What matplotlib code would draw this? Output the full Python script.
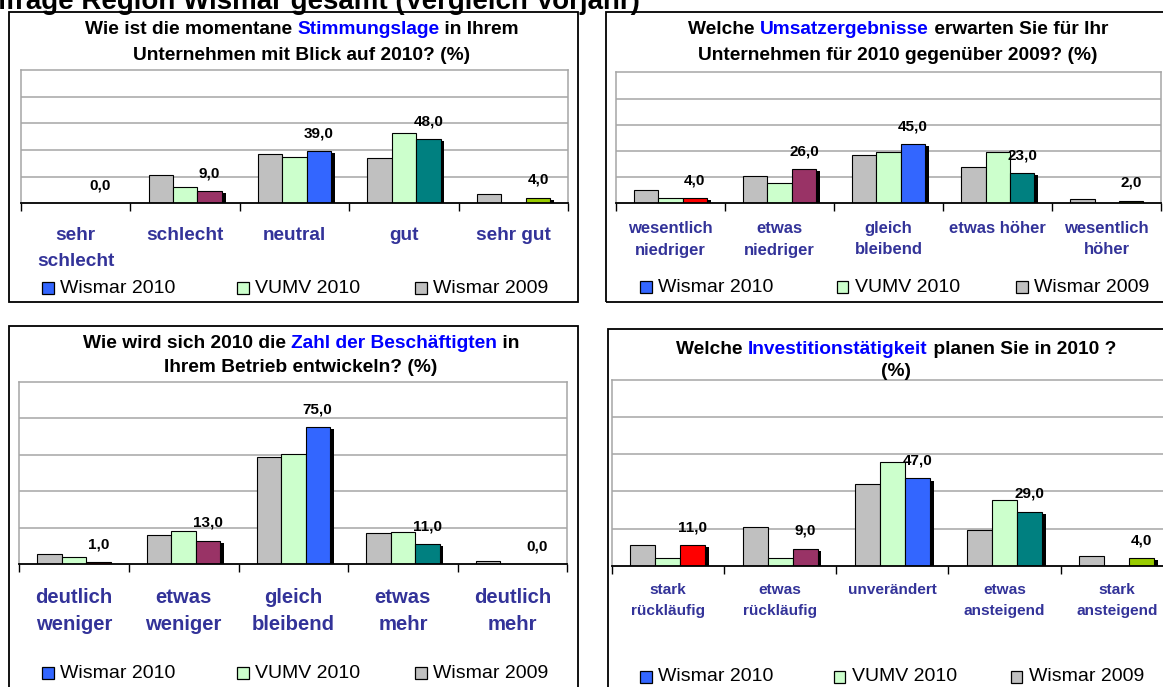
import numpy as np
import matplotlib
matplotlib.use("Agg")
import matplotlib.pyplot as plt
from matplotlib.patches import Rectangle
import matplotlib.patheffects as pe
from matplotlib.transforms import blended_transform_factory

plt.rcParams['font.family'] = ['Liberation Sans', 'DejaVu Sans']

# ---------------- data ----------------
series_names = ["Wismar 2010", "VUMV 2010", "Wismar 2009"]
series_colors = ["#3366FF", "#CCFFCC", "#C0C0C0"]
highlight_colors = ["#FF0000", "#993366", "#3366FF", "#008080", "#99CC00"]

header_text = "Konjunkturumfrage Region Wismar gesamt (Vergleich Vorjahr)"

p1_title = [[("Wie ist die momentane ", "k"), ("Stimmungslage", "#0000FF"), (" in Ihrem", "k")],
            [("Unternehmen mit Blick auf 2010? (%)", "k")]]
p1_categories = ["sehr\nschlecht", "schlecht", "neutral", "gut", "sehr gut"]
p1_wismar2010 = [0.0, 9.0, 39.0, 48.0, 4.0]
p1_vumv2010 = [0.0, 12.0, 35.0, 53.0, 0.0]
p1_wismar2009 = [0.5, 21.0, 37.0, 34.0, 7.0]

p2_title = [[("Welche ", "k"), ("Umsatzergebnisse", "#0000FF"), (" erwarten Sie für Ihr", "k")],
            [("Unternehmen für 2010 gegenüber 2009? (%)", "k")]]
p2_categories = ["wesentlich\nniedriger", "etwas\nniedriger", "gleich\nbleibend", "etwas höher", "wesentlich\nhöher"]
p2_wismar2010 = [4.0, 26.0, 45.0, 23.0, 2.0]
p2_vumv2010 = [4.0, 15.5, 39.5, 39.5, 0.0]
p2_wismar2009 = [10.5, 20.5, 37.0, 28.0, 3.0]

p3_title = [[("Wie wird sich 2010 die ", "k"), ("Zahl der Beschäftigten", "#0000FF"), (" in", "k")],
            [("Ihrem Betrieb entwickeln? (%)", "k")]]
p3_categories = ["deutlich\nweniger", "etwas\nweniger", "gleich\nbleibend", "etwas\nmehr", "deutlich\nmehr"]
p3_wismar2010 = [1.0, 13.0, 75.0, 11.0, 0.0]
p3_vumv2010 = [4.0, 18.0, 60.5, 17.5, 0.0]
p3_wismar2009 = [5.5, 16.0, 59.0, 17.0, 2.0]

p4_title = [[("Welche ", "k"), ("Investitionstätigkeit", "#0000FF"), (" planen Sie in 2010 ?", "k")],
            [("(%)", "k")]]
p4_categories = ["stark\nrückläufig", "etwas\nrückläufig", "unverändert", "etwas\nansteigend", "stark\nansteigend"]
p4_wismar2010 = [11.0, 9.0, 47.0, 29.0, 4.0]
p4_vumv2010 = [4.3, 4.3, 56.0, 35.5, 0.0]
p4_wismar2009 = [11.0, 21.0, 44.0, 19.0, 5.0]

# ---------------- figure ----------------
W, H = 1163, 687
fig = plt.figure(figsize=(W / 100, H / 100), dpi=100)
fig.patch.set_facecolor("white")
renderer = fig.canvas.get_renderer()


def fx(x):
    return x / W


def fy(y):
    return 1 - y / H


def text_adv(s, fs):
    t1 = fig.text(0, 0, "X" + s + "X", fontsize=fs, fontweight="bold")
    t2 = fig.text(0, 0, "XX", fontsize=fs, fontweight="bold")
    w = t1.get_window_extent(renderer).width - t2.get_window_extent(renderer).width
    t1.remove()
    t2.remove()
    return w


def draw_title(lines, ys, cx, fs=13.8):
    for segs, y in zip(lines, ys):
        full = "".join(s for s, _ in segs)
        total = text_adv(full, fs)
        x0 = cx - total / 2
        prefix = ""
        for s, c in segs:
            x = x0 + (text_adv(prefix, fs) if prefix else 0)
            fig.text(fx(x), fy(y), s, color=c, fontsize=fs, fontweight="bold",
                     ha="left", va="center")
            prefix += s


def draw_panel(box, plot, title, title_ys, title_cx, cats, cat_ys, cat_fs,
               w10, vumv, w09, legend_xs, legend_y):
    x0, y0, x1, y1 = box
    fig.add_artist(Rectangle((fx(x0), fy(y1)), (x1 - x0) / W, (y1 - y0) / H,
                             transform=fig.transFigure, fill=False,
                             edgecolor="black", linewidth=1.3))
    l, t, r, b = plot
    ax = fig.add_axes([fx(l), fy(b), (r - l) / W, (b - t) / H])
    ax.set_xlim(-0.5, 4.5)
    ax.set_ylim(0, 100)
    ax.set_yticks([20, 40, 60, 80])
    ax.yaxis.grid(True, color="#A6A6A6", linewidth=1.1)
    ax.set_axisbelow(True)
    ax.tick_params(axis="y", length=0, labelleft=False)
    ax.set_xticks(np.arange(-0.5, 5, 1))
    ax.tick_params(axis="x", direction="out", length=5.5, width=1.0,
                   color="black", labelbottom=False)
    for s in ("left", "top", "right"):
        ax.spines[s].set_color("#A6A6A6")
        ax.spines[s].set_linewidth(1.1)
    ax.spines["bottom"].set_color("black")
    ax.spines["bottom"].set_linewidth(1.3)

    x = np.arange(len(cats))
    bw = 0.223
    ax.bar(x - bw, w09, bw, color=series_colors[2], edgecolor="black", linewidth=0.8)
    ax.bar(x, vumv, bw, color=series_colors[1], edgecolor="black", linewidth=0.8)
    bars = ax.bar(x + bw, w10, bw, color=highlight_colors, edgecolor="black", linewidth=0.8)
    for bar in bars:
        bar.set_path_effects([pe.SimplePatchShadow(offset=(2.7, -1.5), shadow_rgbFace="black",
                                                   alpha=1.0), pe.Normal()])
    for i, v in enumerate(w10):
        ax.annotate(f"{v:.1f}".replace(".", ","), (i + bw, v), xytext=(0, 13),
                    textcoords="offset points", ha="center", va="center",
                    fontsize=11, fontweight="bold", annotation_clip=False)

    blend = blended_transform_factory(ax.transData, fig.transFigure)
    for i, c in enumerate(cats):
        for j, line in enumerate(c.split("\n")):
            ax.text(i, fy(cat_ys[j]), line, transform=blend, ha="center", va="center",
                    color="#333399", fontweight="bold", fontsize=cat_fs, clip_on=False)

    draw_title(title, title_ys, title_cx)

    for name, col, lx in zip(series_names, series_colors, legend_xs):
        fig.add_artist(Rectangle((fx(lx), fy(legend_y + 6)), 11.7 / W, 12 / H,
                                 transform=fig.transFigure, facecolor=col,
                                 edgecolor="black", linewidth=0.9))
        fig.text(fx(lx + 18), fy(legend_y), name, fontsize=14, ha="left", va="center")
    return ax


# header of the page, cut off at the top edge as in the reference
fig.text(fx(640), fy(9), header_text, fontsize=20, fontweight="bold",
         ha="right", va="baseline")

draw_panel((9, 12.5, 577.7, 302.3), (21, 70, 568.3, 203.3), p1_title, (29.3, 55), 301.8,
           p1_categories, (236, 261), 13.7, p1_wismar2010, p1_vumv2010, p1_wismar2009,
           (42, 237, 414.8), 288.3)
draw_panel((606, 12.5, 1190, 302.3), (616, 72.3, 1161.3, 203.3), p2_title, (29.3, 55), 898,
           p2_categories, (228.3, 250), 12, p2_wismar2010, p2_vumv2010, p2_wismar2009,
           (640.4, 836.7, 1016.3), 287.3)
draw_panel((9, 325.7, 577.7, 700), (19.3, 381.7, 567.3, 564.3), p3_title, (343.3, 367.3), 301,
           p3_categories, (597.3, 624.3), 14.6, p3_wismar2010, p3_vumv2010, p3_wismar2009,
           (42, 237, 414.8), 673.3)
draw_panel((607.7, 329, 1190, 700), (611.7, 380, 1173, 565.7), p4_title, (349, 371.7), 896,
           p4_categories, (590, 611), 11.1, p4_wismar2010, p4_vumv2010, p4_wismar2009,
           (640, 833.7, 1010.7), 676.7)

fig.savefig("out.png", dpi=100, facecolor="white")
